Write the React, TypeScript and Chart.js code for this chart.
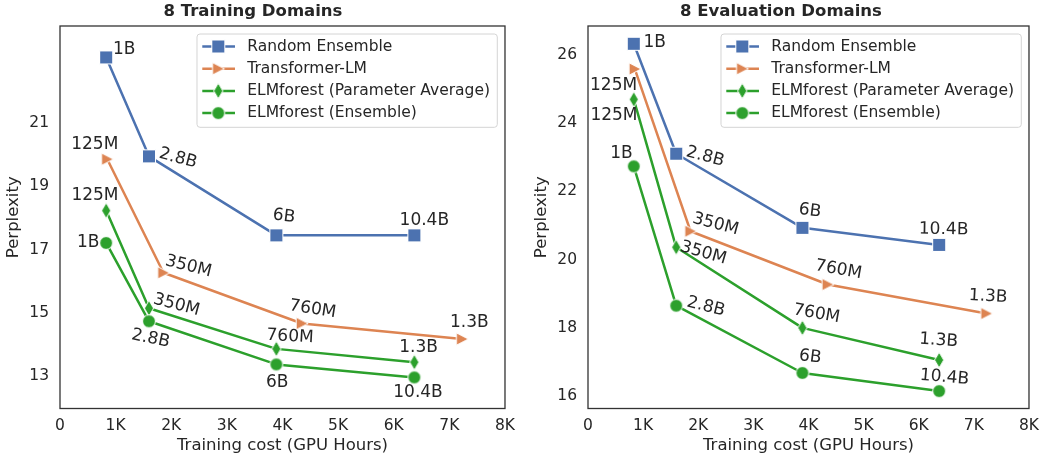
import React, { useEffect, useRef } from 'react';
import { Chart, registerables } from 'chart.js';

Chart.register(...registerables);

// ---------------- data ----------------
const seriesNames = [
  'Random Ensemble',
  'Transformer-LM',
  'ELMforest (Parameter Average)',
  'ELMforest (Ensemble)',
];

// training cost in GPU hours
const elmCost = [830, 1600, 3890, 6370];
const transformerCost = [850, 1860, 4350, 7230];

const randomLabels = ['1B', '2.8B', '6B', '10.4B'];
const transformerLabels = ['125M', '350M', '760M', '1.3B'];
const paramAvgLabels = ['125M', '350M', '760M', '1.3B'];
const ensembleLabels = ['1B', '2.8B', '6B', '10.4B'];

const xTickValues = [0, 1000, 2000, 3000, 4000, 5000, 6000, 7000, 8000];
const xTickLabels = ['0', '1K', '2K', '3K', '4K', '5K', '6K', '7K', '8K'];

// 8 Training Domains
const trainRandom = [23.06, 19.94, 17.45, 17.45];
const trainTransformer = [19.85, 16.27, 14.67, 14.18];
const trainParamAvg = [18.23, 15.15, 13.87, 13.45];
const trainEnsemble = [17.21, 14.74, 13.38, 12.97];
const trainYTicks = [13, 15, 17, 19, 21];

// 8 Evaluation Domains
const evalRandom = [26.32, 23.1, 20.93, 20.43];
const evalTransformer = [25.58, 20.83, 19.27, 18.42];
const evalParamAvg = [24.69, 20.36, 18.0, 17.06];
const evalEnsemble = [22.73, 18.65, 16.68, 16.15];
const evalYTicks = [16, 18, 20, 22, 24, 26];

// ---------------- styles ----------------
const FONT = "'DejaVu Sans', 'Liberation Sans', sans-serif";
const TEXT = '#262626';
const COLORS = ['#4C72B0', '#DD8452', '#2CA02C', '#2CA02C'];
const MARKERS = ['square', 'triangle', 'diamond', 'circle'];

// label placement: [dx, dy, rotationDeg] relative to the point, in pixels
const trainLabelPlacement = [
  [[18, -8, 0], [29, 2, 15], [7.5, -19, 7], [10, -14.5, 0]],
  [[-12.5, -14.7, 0], [25, -6.3, 14], [10.8, -14.2, 9], [7.2, -16.2, 0]],
  [[-11.2, -15.3, 0], [27.5, -3.3, 15], [13.7, -12.2, 3], [4.2, -14.2, 0]],
  [[-18, 0, 0], [1.6, 17.3, 12], [0.8, 18.2, 0], [3.7, 15.2, 0]],
];
const evalLabelPlacement = [
  [[21, -1.5, 0], [29, 2.9, 15], [7.5, -17, 7], [4.5, -15.3, 1]],
  [[-21.3, 16.3, 0], [25, -7, 15], [10.7, -14.7, 10], [1.6, -17, 3]],
  [[-19.8, 15.8, 0], [27.2, 5.8, 16], [14.2, -14, 10], [-0.5, -19.5, 4]],
  [[-12.3, -12.6, 0], [29.7, 0.9, 14], [7.8, -16, 7], [5.3, -13.7, 5]],
];

function makeMarker(kind: string, color: string): HTMLCanvasElement {
  const c = document.createElement('canvas');
  c.width = 20;
  c.height = 20;
  const g = c.getContext('2d') as CanvasRenderingContext2D;
  g.fillStyle = color;
  g.strokeStyle = '#ffffff';
  g.lineWidth = 1;
  g.lineJoin = 'miter';
  g.beginPath();
  const m = 10;
  if (kind === 'square') {
    g.rect(m - 6.5, m - 6.5, 13, 13);
  } else if (kind === 'triangle') {
    g.moveTo(m + 6.2, m);
    g.lineTo(m - 5.8, m - 6.2);
    g.lineTo(m - 5.8, m + 6.2);
    g.closePath();
  } else if (kind === 'diamond') {
    g.moveTo(m, m - 7.8);
    g.lineTo(m + 4.6, m);
    g.lineTo(m, m + 7.8);
    g.lineTo(m - 4.6, m);
    g.closePath();
  } else {
    g.arc(m, m, 6.4, 0, Math.PI * 2);
  }
  g.fill();
  g.stroke();
  return c;
}

const framePlugin = {
  id: 'frame',
  afterDraw(chart: any) {
    const { ctx, chartArea: a } = chart;
    ctx.save();
    ctx.strokeStyle = '#333333';
    ctx.lineWidth = 1.3;
    ctx.strokeRect(a.left, a.top, a.right - a.left, a.bottom - a.top);
    ctx.restore();
  },
};

function makeLabelPlugin(labels: string[][], placement: number[][][]) {
  return {
    id: 'pointLabels',
    afterDatasetsDraw(chart: any) {
      const ctx = chart.ctx;
      ctx.save();
      ctx.font = `17px ${FONT}`;
      ctx.fillStyle = TEXT;
      ctx.textAlign = 'center';
      ctx.textBaseline = 'middle';
      labels.forEach((ls, i) => {
        const meta = chart.getDatasetMeta(i);
        ls.forEach((t, j) => {
          const el = meta.data[j];
          const [dx, dy, rot] = placement[i][j];
          ctx.save();
          ctx.translate(el.x + dx, el.y + dy);
          ctx.rotate((rot * Math.PI) / 180);
          ctx.fillText(t, 0, 0);
          ctx.restore();
        });
      });
      ctx.restore();
    },
  };
}

function makeLegendPlugin(markers: HTMLCanvasElement[]) {
  return {
    id: 'boxLegend',
    afterDraw(chart: any) {
      const { ctx, chartArea: a } = chart;
      const x = a.right - 308;
      const y = a.top + 8;
      const w = 300.3;
      const h = 93.3;
      ctx.save();
      ctx.beginPath();
      const r = 3;
      ctx.moveTo(x + r, y);
      ctx.lineTo(x + w - r, y);
      ctx.arcTo(x + w, y, x + w, y + r, r);
      ctx.lineTo(x + w, y + h - r);
      ctx.arcTo(x + w, y + h, x + w - r, y + h, r);
      ctx.lineTo(x + r, y + h);
      ctx.arcTo(x, y + h, x, y + h - r, r);
      ctx.lineTo(x, y + r);
      ctx.arcTo(x, y, x + r, y, r);
      ctx.closePath();
      ctx.fillStyle = 'rgba(255,255,255,0.85)';
      ctx.fill();
      ctx.strokeStyle = '#d4d4d4';
      ctx.lineWidth = 1;
      ctx.stroke();
      ctx.font = `15.5px ${FONT}`;
      ctx.textBaseline = 'middle';
      ctx.textAlign = 'left';
      seriesNames.forEach((name, i) => {
        const cy = y + 12.5 + i * 22.2;
        ctx.strokeStyle = COLORS[i];
        ctx.lineWidth = 2.5;
        ctx.beginPath();
        ctx.moveTo(x + 5.3, cy);
        ctx.lineTo(x + 38, cy);
        ctx.stroke();
        const mk = markers[i];
        ctx.drawImage(mk, x + 21.3 - mk.width / 2, cy - mk.height / 2);
        ctx.fillStyle = TEXT;
        ctx.fillText(name, x + 50.3, cy);
      });
      ctx.restore();
    },
  };
}

function buildChart(
  canvas: HTMLCanvasElement,
  title: string,
  series: number[][],
  yTicks: number[],
  yMin: number,
  yMax: number,
  placement: number[][][],
  padRight: number,
) {
  const markers = MARKERS.map((m, i) => makeMarker(m, COLORS[i]));
  const costs = [elmCost, transformerCost, elmCost, elmCost];
  const labels = [randomLabels, transformerLabels, paramAvgLabels, ensembleLabels];
  const datasets = series.map((vals, i) => ({
    label: seriesNames[i],
    data: vals.map((v, j) => ({ x: costs[i][j], y: v })),
    borderColor: COLORS[i],
    backgroundColor: COLORS[i],
    borderWidth: 2.5,
    borderJoinStyle: 'round',
    pointStyle: markers[i],
    pointRadius: 6,
    pointHoverRadius: 6,
    tension: 0,
    fill: false,
    order: 3 - i,
  }));
  return new Chart(canvas, {
    type: 'line',
    data: { datasets } as any,
    options: {
      responsive: false,
      animation: false,
      events: [],
      layout: { padding: { left: 0, right: padRight, top: 0, bottom: 0 } },
      plugins: {
        legend: { display: false },
        tooltip: { enabled: false },
        title: {
          display: true,
          text: title,
          color: TEXT,
          font: { family: FONT, size: 16.5, weight: 'bold', lineHeight: 1.2 },
          padding: { top: 2.1, bottom: 4.1 },
        },
      },
      scales: {
        x: {
          type: 'linear',
          min: 0,
          max: 8000,
          grid: { display: false, drawTicks: false },
          border: { display: false },
          ticks: {
            color: TEXT,
            font: { family: FONT, size: 15.5, lineHeight: 1.2 },
            padding: 8,
            autoSkip: false,
            maxRotation: 0,
            callback: (_v: any, i: number) => xTickLabels[i],
          },
          afterBuildTicks: (s: any) => {
            s.ticks = xTickValues.map((v) => ({ value: v }));
          },
          afterFit: (s: any) => {
            s.height = 47.5;
          },
          title: {
            display: true,
            text: 'Training cost (GPU Hours)',
            color: TEXT,
            font: { family: FONT, size: 16.5, lineHeight: 1.2 },
            padding: { top: 0, bottom: 0 },
          },
        },
        y: {
          type: 'linear',
          min: yMin,
          max: yMax,
          grid: { display: false, drawTicks: false },
          border: { display: false },
          ticks: {
            color: TEXT,
            font: { family: FONT, size: 15.5, lineHeight: 1.2 },
            padding: 11,
            autoSkip: false,
            callback: (v: any) => String(v),
          },
          afterBuildTicks: (s: any) => {
            s.ticks = yTicks.map((v) => ({ value: v }));
          },
          afterFit: (s: any) => {
            s.width = 60;
          },
          title: {
            display: true,
            text: 'Perplexity',
            color: TEXT,
            font: { family: FONT, size: 16.5, lineHeight: 1.2 },
            padding: { top: 3.6, bottom: 0 },
          },
        },
      },
    } as any,
    plugins: [framePlugin, makeLabelPlugin(labels, placement), makeLegendPlugin(markers)],
  });
}

export default function App() {
  const leftRef = useRef<HTMLCanvasElement>(null);
  const rightRef = useRef<HTMLCanvasElement>(null);

  useEffect(() => {
    const left = buildChart(
      leftRef.current as HTMLCanvasElement,
      '8 Training Domains',
      [trainRandom, trainTransformer, trainParamAvg, trainEnsemble],
      trainYTicks,
      11.99,
      24.05,
      trainLabelPlacement,
      17,
    );
    const right = buildChart(
      rightRef.current as HTMLCanvasElement,
      '8 Evaluation Domains',
      [evalRandom, evalTransformer, evalParamAvg, evalEnsemble],
      evalYTicks,
      15.64,
      26.84,
      evalLabelPlacement,
      13,
    );
    return () => {
      left.destroy();
      right.destroy();
    };
  }, []);

  return (
    <div
      style={{
        position: 'fixed',
        left: 0,
        top: 0,
        width: 1047,
        height: 456,
        background: '#ffffff',
        overflow: 'hidden',
      }}
    >
      <canvas
        ref={leftRef}
        width={523}
        height={456}
        style={{ position: 'absolute', left: 0, top: 0, width: 523, height: 456 }}
      />
      <canvas
        ref={rightRef}
        width={519}
        height={456}
        style={{ position: 'absolute', left: 528, top: 0, width: 519, height: 456 }}
      />
    </div>
  );
}
